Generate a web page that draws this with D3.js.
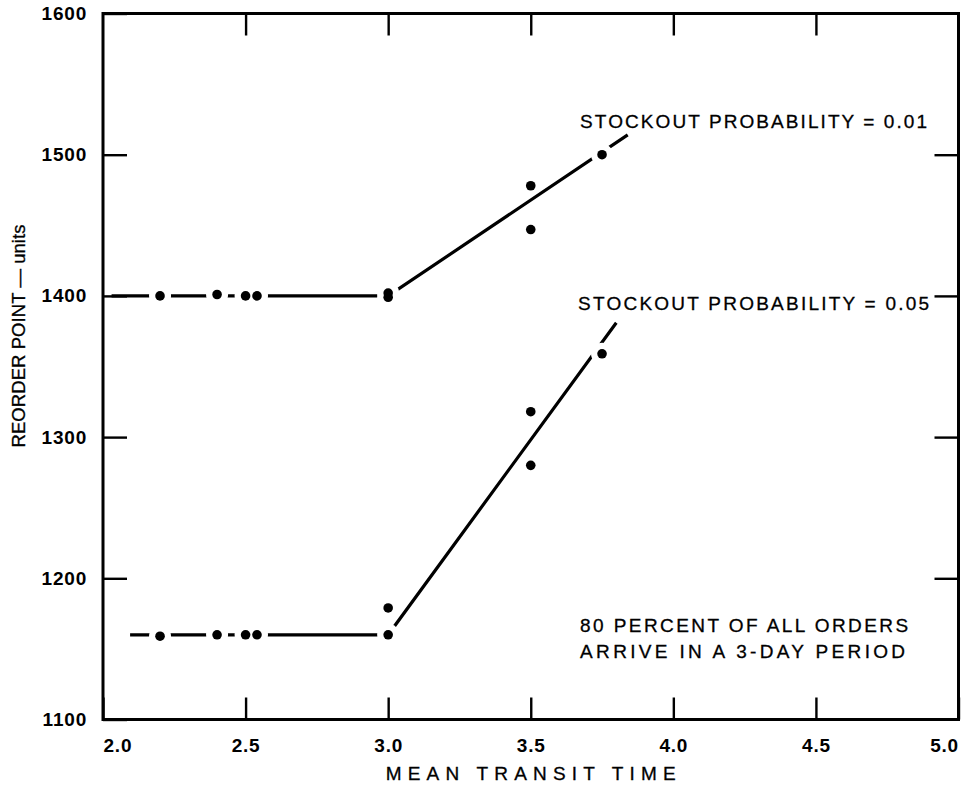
<!DOCTYPE html>
<html lang="en">
<head>
<meta charset="UTF-8">
<title>Reorder point vs mean transit time</title>
<style>
  body { margin: 0; background: #fff; }
  text { font-family: "Liberation Sans", Arial, Helvetica, sans-serif; fill: #000; }
</style>
</head>
<body>
<div id="chart"></div>
<script src="https://cdnjs.cloudflare.com/ajax/libs/d3/7.8.2/d3.min.js"></script>
<script>
// axis ticks
var xTicks = [2.0, 2.5, 3.0, 3.5, 4.0, 4.5, 5.0];
var yTicks = [1100, 1200, 1300, 1400, 1500, 1600];

// stockout probability = 0.01 : fitted line knots and observed points
var lineHigh = [[2.03, 1400], [3.0, 1400], [3.84, 1514]];
var pointsHigh = [[2.2, 1400], [2.4, 1401], [2.5, 1400], [2.54, 1400],
                  [3.0, 1402], [3.0, 1399], [3.5, 1478], [3.5, 1447], [3.75, 1500]];

// stockout probability = 0.05
var lineLow = [[2.095, 1160], [3.0, 1160], [3.80, 1381]];
var pointsLow = [[2.2, 1159], [2.4, 1160], [2.5, 1160], [2.54, 1160],
                 [3.0, 1179], [3.0, 1160], [3.5, 1318], [3.5, 1280], [3.75, 1359]];

// annotations: [x, y, text, width px]
var notes = [
  [3.673, 1519, "STOCKOUT PROBABILITY = 0.01", 347],
  [3.666, 1390, "STOCKOUT PROBABILITY = 0.05", 351],
  [3.673, 1162, "80 PERCENT OF ALL ORDERS", 328],
  [3.673, 1143.5, "ARRIVE IN A 3-DAY PERIOD", 325]
];

var width = 963, height = 786;
var svg = d3.select("#chart").append("svg")
  .attr("width", width)
  .attr("height", height);

var x = d3.scaleLinear().domain([2, 5]).range([103, 958.5]);
var y = d3.scaleLinear().domain([1100, 1600]).range([719.5, 13.5]);

function styleAxis(g) {
  g.select(".domain").remove();
  g.selectAll(".tick line").attr("stroke", "#000").attr("stroke-width", 2.4);
  g.selectAll(".tick text")
    .attr("font-family", "'Liberation Sans', Arial, sans-serif")
    .attr("font-size", 19)
    .attr("font-weight", "bold")
    .attr("letter-spacing", 0.8)
    .attr("fill", "#000");
}

// bottom
var gx = svg.append("g")
  .attr("transform", "translate(0," + y(1100) + ")")
  .call(d3.axisBottom(x).tickValues(xTicks).tickFormat(d3.format(".1f"))
    .tickSizeInner(-22).tickSizeOuter(0).tickPadding(19))
  .call(styleAxis);
gx.selectAll(".tick text")
  .attr("text-anchor", function(d, i) {
    return i === 0 ? "start" : (i === xTicks.length - 1 ? "end" : "middle");
  });

// top (ticks only)
svg.append("g")
  .attr("transform", "translate(0," + y(1600) + ")")
  .call(d3.axisTop(x).tickValues(xTicks.slice(1, -1)).tickFormat("")
    .tickSizeInner(-22).tickSizeOuter(0))
  .call(styleAxis);

// left
svg.append("g")
  .attr("transform", "translate(" + x(2) + ",0)")
  .call(d3.axisLeft(y).tickValues(yTicks).tickFormat(d3.format("d"))
    .tickSizeInner(-24).tickSizeOuter(0).tickPadding(16))
  .call(styleAxis);

// right (ticks only)
svg.append("g")
  .attr("transform", "translate(" + x(5) + ",0)")
  .call(d3.axisRight(y).tickValues(yTicks.slice(1, -1)).tickFormat("")
    .tickSizeInner(-24).tickSizeOuter(0))
  .call(styleAxis);

// frame
svg.append("rect")
  .attr("x", x(2)).attr("y", y(1600))
  .attr("width", x(5) - x(2)).attr("height", y(1100) - y(1600))
  .attr("fill", "none").attr("stroke", "#000").attr("stroke-width", 3);

var line = d3.line()
  .x(function(d) { return x(d[0]); })
  .y(function(d) { return y(d[1]); });

// distance (px) from a point to a polyline
function distToLine(p, knots) {
  var px = x(p[0]), py = y(p[1]), best = Infinity;
  for (var i = 0; i < knots.length - 1; i++) {
    var ax = x(knots[i][0]), ay = y(knots[i][1]);
    var bx = x(knots[i + 1][0]), by = y(knots[i + 1][1]);
    var dx = bx - ax, dy = by - ay;
    var t = ((px - ax) * dx + (py - ay) * dy) / (dx * dx + dy * dy);
    t = Math.max(0, Math.min(1, t));
    var cx = ax + t * dx, cy = ay + t * dy;
    best = Math.min(best, Math.hypot(px - cx, py - cy));
  }
  return best;
}

[[lineHigh, pointsHigh], [lineLow, pointsLow]].forEach(function(s) {
  var knots = s[0], pts = s[1];
  svg.append("path")
    .datum(knots)
    .attr("d", line)
    .attr("fill", "none")
    .attr("stroke", "#000")
    .attr("stroke-width", 3.2);

  // break the line around points that sit on it
  svg.selectAll(null)
    .data(pts.filter(function(p) { return distToLine(p, knots) < 9; }))
    .enter().append("circle")
    .attr("cx", function(d) { return x(d[0]); })
    .attr("cy", function(d) { return y(d[1]); })
    .attr("r", 11)
    .attr("fill", "#fff");
});

[pointsHigh, pointsLow].forEach(function(pts) {
  svg.selectAll(null)
    .data(pts)
    .enter().append("circle")
    .attr("cx", function(d) { return x(d[0]); })
    .attr("cy", function(d) { return y(d[1]); })
    .attr("r", 4.8)
    .attr("fill", "#000");
});

// annotations
svg.selectAll(".note")
  .data(notes)
  .enter().append("text")
  .attr("class", "note")
  .attr("x", function(d) { return x(d[0]); })
  .attr("y", function(d) { return y(d[1]); })
  .attr("font-size", 19)
  .attr("stroke", "#000")
  .attr("stroke-width", 0.3)
  .attr("textLength", function(d) { return d[3]; })
  .attr("lengthAdjust", "spacing")
  .text(function(d) { return d[2]; });

// axis titles
svg.append("text")
  .attr("x", (x(2) + x(5)) / 2)
  .attr("y", 780)
  .attr("text-anchor", "middle")
  .attr("font-size", 19)
  .attr("stroke", "#000")
  .attr("stroke-width", 0.3)
  .attr("textLength", 290)
  .attr("lengthAdjust", "spacing")
  .text("MEAN TRANSIT TIME");

svg.append("text")
  .attr("transform", "translate(25,336) rotate(-90)")
  .attr("text-anchor", "middle")
  .attr("font-size", 18.5)
  .attr("stroke", "#000")
  .attr("stroke-width", 0.3)
  .attr("textLength", 223)
  .attr("lengthAdjust", "spacing")
  .text("REORDER POINT — units");
</script>
</body>
</html>
